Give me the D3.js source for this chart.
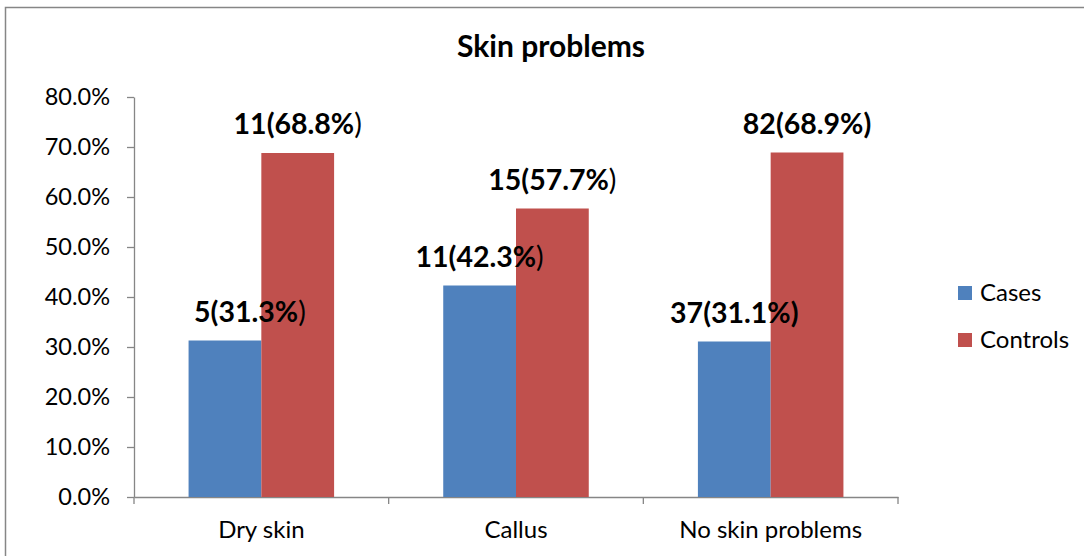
<!DOCTYPE html>
<html>
<head>
<meta charset="utf-8">
<script src="https://cdn.jsdelivr.net/npm/d3@7"></script>
<style>
  html, body { margin: 0; padding: 0; background: #fff; }
  svg { display: block; font-family: Lato, "Open Sans", sans-serif; }
</style>
</head>
<body>
<svg id="chart" width="1084" height="556"></svg>
<script>
// Skin problems among cases and controls
const categories = ["Dry skin", "Callus", "No skin problems"];
const seriesNames = ["Cases", "Controls"];
const casesPct = [31.3, 42.3, 31.1];
const controlsPct = [68.8, 57.7, 68.9];
const casesCount = [5, 11, 37];
const controlsCount = [11, 15, 82];
// Whether the closing bracket of each label is set in the regular weight
const casesPlainParen = [true, true, false];
const controlsPlainParen = [true, true, false];
const yTicks = [0, 10, 20, 30, 40, 50, 60, 70, 80];

const colors = { Cases: "#4F81BD", Controls: "#C0504D" };

const svg = d3.select("#chart");
const margin = { left: 134, right: 186, top: 97, bottom: 59 };
const W = 1084, H = 556;

// outer chart frame
svg.append("rect")
  .attr("x", 5.5).attr("y", 7.5)
  .attr("width", 1100).attr("height", 600)
  .attr("fill", "none").attr("stroke", "#868686").attr("stroke-width", 1.5);

const x0 = d3.scaleBand()
  .domain(categories)
  .range([margin.left, W - margin.right])
  .paddingInner(0).paddingOuter(0);

const x1 = d3.scaleBand()
  .domain(seriesNames)
  .range([0, x0.bandwidth()])
  .paddingInner(0)
  .paddingOuter(0.75);

const y = d3.scaleLinear()
  .domain([0, 80])
  .range([H - margin.bottom, margin.top]);

// title
svg.append("text")
  .attr("x", 551).attr("y", 57)
  .attr("text-anchor", "middle")
  .attr("font-weight", "bold")
  .attr("font-size", 30)
  .text("Skin problems");

// y axis
const yAxis = svg.append("g")
  .attr("transform", `translate(${margin.left},0)`)
  .call(d3.axisLeft(y).tickValues(yTicks).tickSize(7).tickSizeOuter(0)
    .tickPadding(17).tickFormat(d => d.toFixed(1) + "%"));
yAxis.select(".domain").attr("stroke", "#868686").attr("stroke-width", 1.3);
yAxis.selectAll(".tick line").attr("stroke", "#868686").attr("stroke-width", 1.3);
yAxis.selectAll(".tick text")
  .attr("font-family", "Lato, sans-serif")
  .attr("font-size", 23.5).attr("fill", "#000");

// x axis
const xAxis = svg.append("g")
  .attr("transform", `translate(0,${y(0)})`)
  .call(d3.axisBottom(x0).tickSize(0).tickPadding(24));
xAxis.select(".domain").attr("stroke", "#868686").attr("stroke-width", 1.3);
xAxis.selectAll(".tick text")
  .attr("font-family", "Lato, sans-serif")
  .attr("font-size", 24).attr("fill", "#000");
// category divider ticks
const dividers = [margin.left, ...categories.map(c => x0(c) + x0.bandwidth())];
xAxis.selectAll("line.divider").data(dividers).join("line")
  .attr("class", "divider")
  .attr("x1", d => d).attr("x2", d => d)
  .attr("y1", 0).attr("y2", 7)
  .attr("stroke", "#868686").attr("stroke-width", 1.3);

const rows = categories.map((c, i) => ({
  category: c,
  values: [
    { series: "Cases", pct: casesPct[i], n: casesCount[i], plain: casesPlainParen[i] },
    { series: "Controls", pct: controlsPct[i], n: controlsCount[i], plain: controlsPlainParen[i] }
  ]
}));

const groups = svg.selectAll("g.group").data(rows).join("g")
  .attr("class", "group")
  .attr("transform", d => `translate(${x0(d.category)},0)`);

groups.selectAll("rect").data(d => d.values).join("rect")
  .attr("x", d => x1(d.series))
  .attr("y", d => y(d.pct))
  .attr("width", x1.bandwidth())
  .attr("height", d => y(0) - y(d.pct))
  .attr("fill", d => colors[d.series]);

// value labels
const labelShift = (cat, s) => (cat === "Dry skin" && s === "Cases") ? 25 : 0;
groups.each(function (row) {
  const g = d3.select(this);
  row.values.forEach(v => {
    const t = g.append("text")
      .attr("x", x1(v.series) + x1.bandwidth() / 2 + labelShift(row.category, v.series))
      .attr("y", y(v.pct) - 19)
      .attr("text-anchor", "middle")
      .attr("font-size", 28.5);
    t.append("tspan").attr("font-weight", "bold")
      .text(`${v.n}(${v.pct.toFixed(1)}%` + (v.plain ? "" : ")"));
    if (v.plain) t.append("tspan").attr("font-weight", "normal").text(")");
  });
});

// legend
const legend = svg.append("g");
seriesNames.forEach((s, i) => {
  const ly = 293 + i * 47;
  legend.append("rect")
    .attr("x", 958).attr("y", ly - 7).attr("width", 14).attr("height", 14)
    .attr("fill", colors[s]);
  legend.append("text")
    .attr("x", 980).attr("y", ly + 8)
    .attr("font-size", 24)
    .text(s);
});
</script>
</body>
</html>
